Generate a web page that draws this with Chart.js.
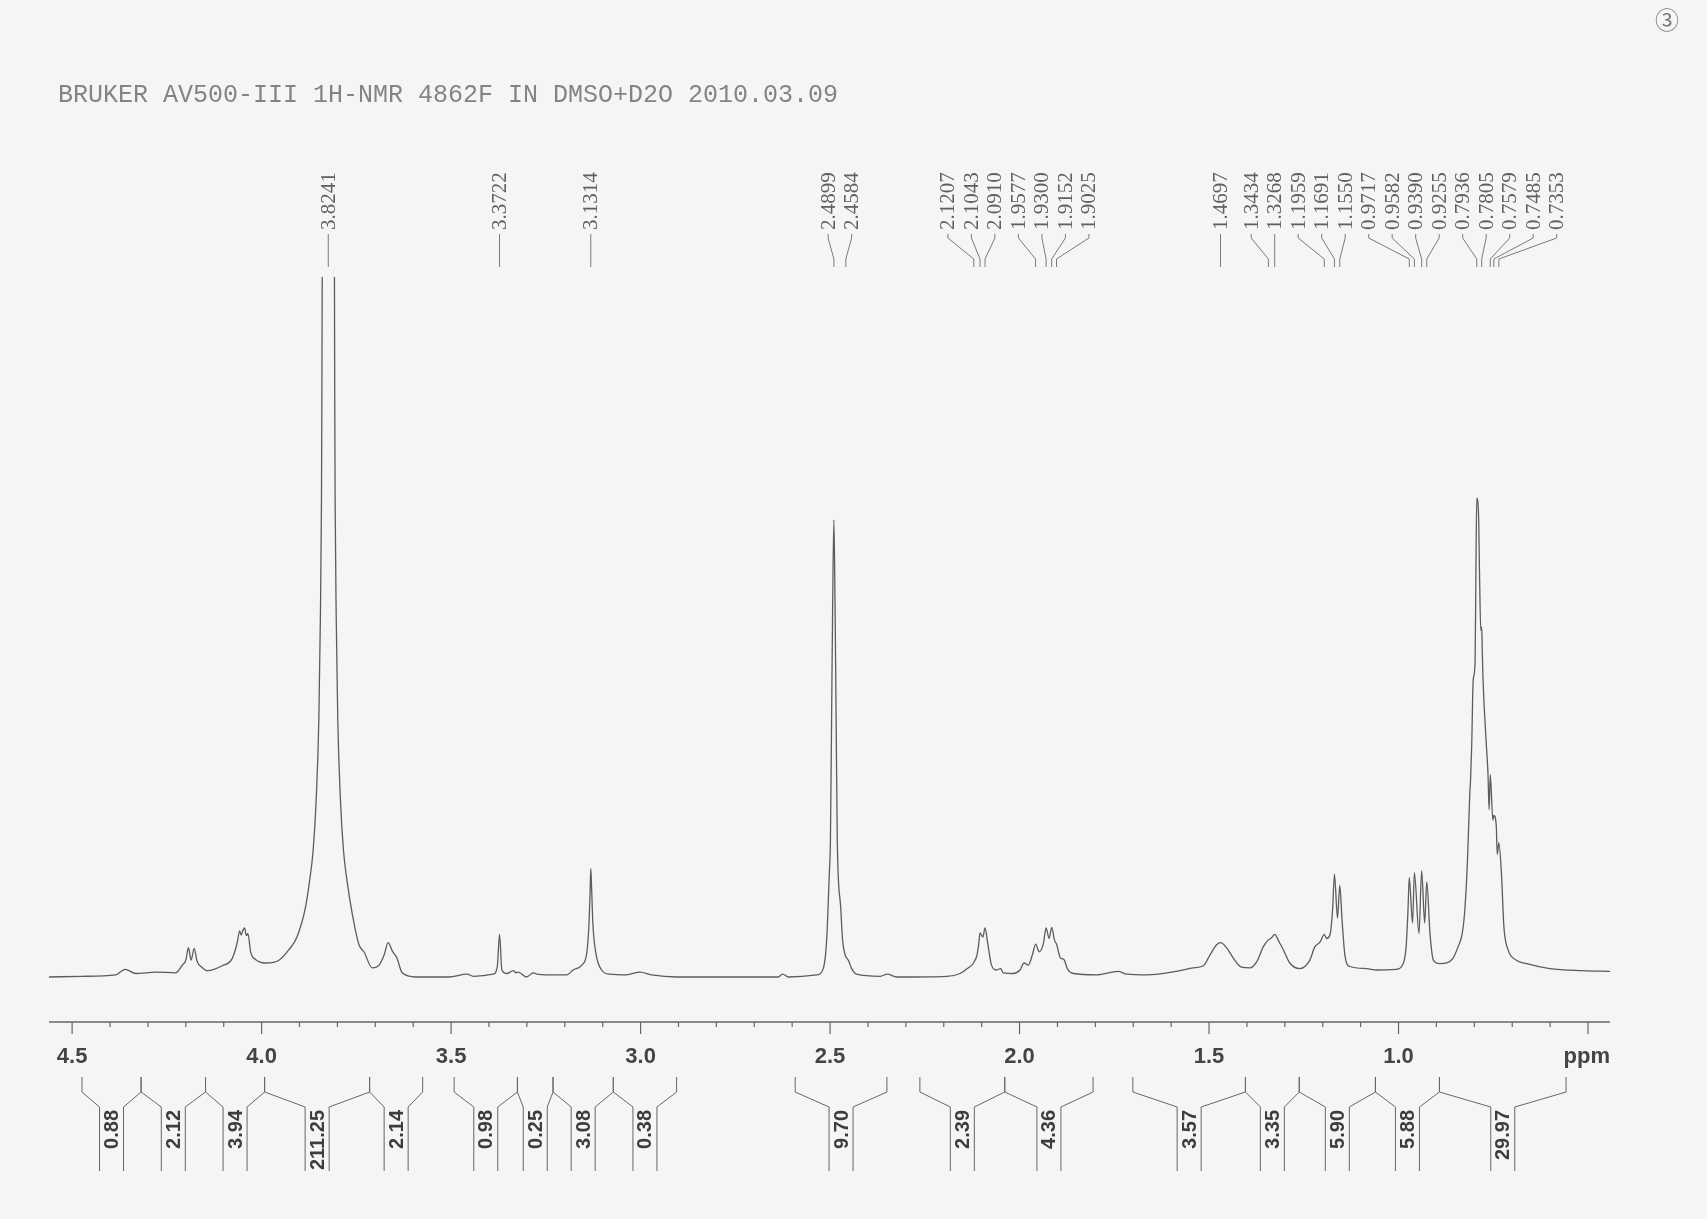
<!DOCTYPE html>
<html lang="en">
<head>
<meta charset="UTF-8">
<title>BRUKER AV500-III 1H-NMR 4862F</title>
<script src="https://cdn.jsdelivr.net/npm/chart.js"></script>
<style>
  body { margin: 0; background: #f4f5f7; }
  canvas { display: block; }
</style>
</head>
<body>
<canvas id="nmr" width="1707" height="1219"></canvas>
<script>
// header line printed on the spectrum
const titleText = 'BRUKER AV500-III 1H-NMR 4862F IN DMSO+D2O 2010.03.09';

// trace: chemical shift (ppm) and intensity (arbitrary, 100 = top of plot)
const shifts = [
  4.561, 4.473, 4.385, 4.360, 4.332, 4.279, 4.227, 4.209, 4.200, 4.193, 4.186, 4.178, 4.170, 4.158, 4.143,
  4.104, 4.077, 4.064, 4.058, 4.054, 4.049, 4.045, 4.040, 4.036, 4.029, 4.016, 3.989, 3.954, 3.928, 3.906,
  3.884, 3.873, 3.864, 3.856, 3.849, 3.845, 3.842, 3.841, 3.8241, 3.807, 3.806, 3.803, 3.799, 3.792, 3.784,
  3.775, 3.761, 3.743, 3.730, 3.708, 3.690, 3.677, 3.666, 3.655, 3.643, 3.629, 3.593, 3.506, 3.458, 3.441,
  3.389, 3.378, 3.3722, 3.366, 3.353, 3.336, 3.329, 3.323, 3.301, 3.283, 3.273, 3.248, 3.195, 3.178, 3.155,
  3.142, 3.136, 3.133, 3.1314, 3.129, 3.126, 3.118, 3.103, 3.081, 3.037, 3.002, 2.971, 2.905, 2.685, 2.637,
  2.625, 2.610, 2.535, 2.518, 2.509, 2.502, 2.499, 2.496, 2.493, 2.4899, 2.487, 2.484, 2.481, 2.472, 2.467,
  2.460, 2.4584, 2.451, 2.443, 2.430, 2.368, 2.349, 2.324, 2.192, 2.157, 2.138, 2.126, 2.1207, 2.113, 2.108,
  2.1043, 2.097, 2.0910, 2.084, 2.074, 2.061, 2.050, 2.043, 2.017, 1.999, 1.988, 1.977, 1.965, 1.9577, 1.948,
  1.937, 1.9300, 1.922, 1.9152, 1.908, 1.9025, 1.892, 1.883, 1.874, 1.858, 1.797, 1.740, 1.717, 1.665, 1.577,
  1.542, 1.515, 1.498, 1.480, 1.4697, 1.454, 1.436, 1.414, 1.392, 1.374, 1.357, 1.3434, 1.335, 1.3268, 1.315,
  1.304, 1.287, 1.260, 1.234, 1.221, 1.207, 1.1959, 1.190, 1.181, 1.174, 1.1691, 1.161, 1.1550, 1.149, 1.141,
  1.128, 1.084, 1.058, 1.005, 0.992, 0.980, 0.975, 0.9717, 0.963, 0.9582, 0.946, 0.9390, 0.931, 0.9255, 0.917,
  0.908, 0.891, 0.873, 0.856, 0.843, 0.832, 0.825, 0.818, 0.812, 0.810, 0.807, 0.803, 0.798, 0.796, 0.7936,
  0.789, 0.786, 0.783, 0.7805, 0.779, 0.777, 0.768, 0.764, 0.761, 0.7579, 0.751, 0.7485, 0.742, 0.7395, 0.7353,
  0.728, 0.722, 0.711, 0.689, 0.662, 0.601, 0.514, 0.442
];
const intensity = [
  0.0, 0.1, 0.3, 1.1, 0.5, 0.7, 0.6, 1.7, 2.4, 4.2, 2.4, 4.1, 2.2, 1.4, 0.9,
  1.6, 2.7, 5.0, 6.6, 6.0, 6.7, 7.0, 5.9, 6.2, 3.6, 2.5, 2.0, 2.4, 3.9, 5.8,
  10.0, 13.9, 18.1, 25.3, 36.7, 51.0, 68.1, 82.4, 400, 82.4, 68.1, 51.0, 36.7, 25.3, 18.1,
  13.9, 9.1, 4.6, 3.6, 1.3, 1.7, 3.1, 4.9, 3.7, 2.7, 0.6, 0.0, 0.0, 0.4, 0.1,
  0.4, 1.5, 6.1, 1.0, 0.5, 0.9, 0.6, 0.7, 0.0, 0.6, 0.4, 0.3, 0.3, 1.0, 1.7,
  3.4, 7.7, 12.4, 15.5, 12.4, 7.7, 3.4, 1.0, 0.4, 0.3, 0.7, 0.3, 0.0, 0.0, 0.0,
  0.4, 0.0, 0.3, 1.2, 5.3, 14.8, 19.6, 36.7, 53.9, 65.3, 53.9, 36.7, 19.6, 10.0, 5.3,
  3.1, 2.9, 2.3, 1.2, 0.4, 0.1, 0.4, 0.0, 0.1, 0.5, 1.2, 1.7, 2.1, 3.0, 4.6,
  6.3, 5.7, 7.0, 4.8, 1.7, 1.0, 1.2, 0.6, 0.5, 1.0, 2.0, 1.7, 3.4, 4.7, 3.6,
  4.8, 7.0, 5.5, 7.1, 5.3, 4.7, 2.7, 2.5, 1.2, 0.5, 0.3, 0.8, 0.4, 0.3, 0.9,
  1.3, 1.6, 3.1, 4.6, 4.9, 4.2, 2.7, 1.4, 1.3, 2.2, 4.3, 5.3, 5.6, 6.1, 5.0,
  3.9, 2.0, 1.2, 2.4, 4.3, 5.0, 6.1, 5.5, 6.0, 9.6, 14.7, 8.4, 13.1, 8.1, 2.9,
  1.5, 1.2, 1.0, 1.1, 1.5, 4.3, 9.6, 14.2, 7.7, 14.9, 6.2, 15.2, 7.7, 13.6, 6.2,
  2.4, 1.9, 2.0, 2.7, 4.3, 6.2, 9.6, 16.7, 26.2, 28.1, 32.9, 42.4, 44.9, 56.7, 68.4,
  66.3, 56.7, 49.5, 50.0, 46.5, 42.4, 32.9, 29.1, 23.9, 28.9, 22.4, 23.1, 21.5, 17.5, 19.2,
  14.3, 7.2, 3.9, 2.4, 1.9, 1.2, 0.9, 0.8
];

// peak picking labels (ppm)
const peakPicks = [
  3.8241, 3.3722, 3.1314, 2.4899, 2.4584,
  2.1207, 2.1043, 2.0910, 1.9577, 1.9300, 1.9152, 1.9025,
  1.4697, 1.3434, 1.3268, 1.1959, 1.1691, 1.1550,
  0.9717, 0.9582, 0.9390, 0.9255, 0.7936, 0.7805, 0.7579, 0.7485, 0.7353
];

// integration regions (ppm) and their values
const integralFrom = [4.474, 4.318, 4.148, 3.992, 3.715, 3.492, 3.325, 3.231, 3.072, 2.592, 2.263, 2.039, 1.701, 1.404, 1.262, 1.061, 0.892];
const integralTo   = [4.318, 4.148, 3.992, 3.715, 3.575, 3.325, 3.231, 3.072, 2.905, 2.350, 2.039, 1.806, 1.404, 1.262, 1.061, 0.892, 0.558];
const integralValues = ['0.88', '2.12', '3.94', '211.25', '2.14', '0.98', '0.25', '3.08', '0.38', '9.70', '2.39', '4.36', '3.57', '3.35', '5.90', '5.88', '29.97'];

const tickLabels = ['4.5', '4.0', '3.5', '3.0', '2.5', '2.0', '1.5', '1.0'];
const axisUnit = 'ppm';

// spread crowded peak labels into evenly spaced blocks centred on their peaks
function spreadLabels(px, pitch) {
  let groups = px.map(p => ({ items: [p], center: p }));
  let merged = true;
  while (merged) {
    merged = false;
    for (let i = 0; i < groups.length - 1; i++) {
      const a = groups[i], b = groups[i + 1];
      const aEnd = a.center + (a.items.length - 1) * pitch / 2;
      const bStart = b.center - (b.items.length - 1) * pitch / 2;
      if (bStart - aEnd < pitch) {
        const items = a.items.concat(b.items);
        groups.splice(i, 2, { items, center: items.reduce((s, v) => s + v, 0) / items.length });
        merged = true;
        break;
      }
    }
  }
  const out = [];
  groups.forEach(g => {
    const start = g.center - (g.items.length - 1) * pitch / 2;
    g.items.forEach((p, k) => out.push(start + k * pitch));
  });
  return out;
}

const paper = {
  id: 'paper',
  afterDraw(chart) {
    const ctx = chart.ctx;
    const xs = chart.scales.x;
    const area = chart.chartArea;
    const px = v => xs.getPixelForValue(v);
    ctx.save();

    // header
    ctx.fillStyle = '#848484';
    ctx.font = '25px "Liberation Mono", "Courier New", monospace';
    ctx.textAlign = 'left';
    ctx.textBaseline = 'alphabetic';
    ctx.fillText(titleText, 58, 102);

    // page number mark
    ctx.fillStyle = '#7a7a7a';
    ctx.font = '24px "Noto Sans CJK SC", "DejaVu Sans", sans-serif';
    ctx.textAlign = 'center';
    ctx.textBaseline = 'middle';
    ctx.fillText('\u2462', 1667, 20);

    // axis line and ticks
    const yAxis = area.bottom;
    ctx.strokeStyle = '#666';
    ctx.lineWidth = 1.5;
    ctx.beginPath();
    ctx.moveTo(area.left, yAxis);
    ctx.lineTo(area.right, yAxis);
    ctx.stroke();
    ctx.lineWidth = 1.2;
    for (let k = 5; k <= 45; k++) {
      const x = px(k / 10);
      ctx.beginPath();
      ctx.moveTo(x, yAxis);
      ctx.lineTo(x, yAxis + (k % 5 === 0 ? 12 : 5));
      ctx.stroke();
    }
    ctx.fillStyle = '#444';
    ctx.font = 'bold 22px "Liberation Sans", Arial, sans-serif';
    ctx.textBaseline = 'alphabetic';
    ctx.textAlign = 'center';
    tickLabels.forEach(t => ctx.fillText(t, px(parseFloat(t)), 1063));
    ctx.textAlign = 'right';
    ctx.fillText(axisUnit, area.right, 1063);

    // peak labels with connectors
    const peakPx = peakPicks.map(px);
    const labelPx = spreadLabels(peakPx, 23.5);
    ctx.strokeStyle = '#7a7a7a';
    ctx.lineWidth = 1;
    ctx.fillStyle = '#606060';
    ctx.font = '21px "Liberation Serif", "Times New Roman", serif';
    ctx.textAlign = 'left';
    ctx.textBaseline = 'middle';
    peakPicks.forEach((p, i) => {
      const lx = labelPx[i], tx = peakPx[i];
      ctx.beginPath();
      ctx.moveTo(lx, 234);
      ctx.lineTo(lx, 238);
      ctx.lineTo(tx, 259);
      ctx.lineTo(tx, 267);
      ctx.stroke();
      ctx.save();
      ctx.translate(lx, 230);
      ctx.rotate(-Math.PI / 2);
      ctx.fillText(p.toFixed(4), 0, 1);
      ctx.restore();
    });

    // integral brackets
    const half = 12;
    ctx.strokeStyle = '#666';
    ctx.lineWidth = 1;
    ctx.fillStyle = '#3d3d3d';
    ctx.font = 'bold 20px "Liberation Sans", Arial, sans-serif';
    ctx.textAlign = 'right';
    integralValues.forEach((val, i) => {
      const xa = px(integralFrom[i]);
      const xb = px(integralTo[i]);
      const xm = (xa + xb) / 2;
      ctx.beginPath();
      ctx.moveTo(xa, 1077);
      ctx.lineTo(xa, 1092);
      ctx.lineTo(xm - half, 1107);
      ctx.lineTo(xm - half, 1171);
      ctx.moveTo(xb, 1077);
      ctx.lineTo(xb, 1092);
      ctx.lineTo(xm + half, 1107);
      ctx.lineTo(xm + half, 1171);
      ctx.stroke();
      ctx.save();
      ctx.translate(xm, 1110);
      ctx.rotate(-Math.PI / 2);
      ctx.fillText(val, 0, 1);
      ctx.restore();
    });

    ctx.restore();
  }
};

new Chart(document.getElementById('nmr'), {
  type: 'line',
  data: {
    datasets: [{
      data: shifts.map((s, i) => ({ x: s, y: intensity[i] })),
      borderColor: '#5c5c5c',
      borderWidth: 1.3,
      pointRadius: 0,
      cubicInterpolationMode: 'monotone',
      fill: false
    }]
  },
  options: {
    responsive: false,
    animation: false,
    layout: { padding: { left: 49, right: 97, top: 277, bottom: 197 } },
    plugins: { legend: { display: false }, tooltip: { enabled: false } },
    scales: {
      x: { type: 'linear', reverse: true, min: 0.442, max: 4.561, display: false },
      y: { min: -6.43, max: 100, display: false }
    }
  },
  plugins: [paper]
});
</script>
</body>
</html>
